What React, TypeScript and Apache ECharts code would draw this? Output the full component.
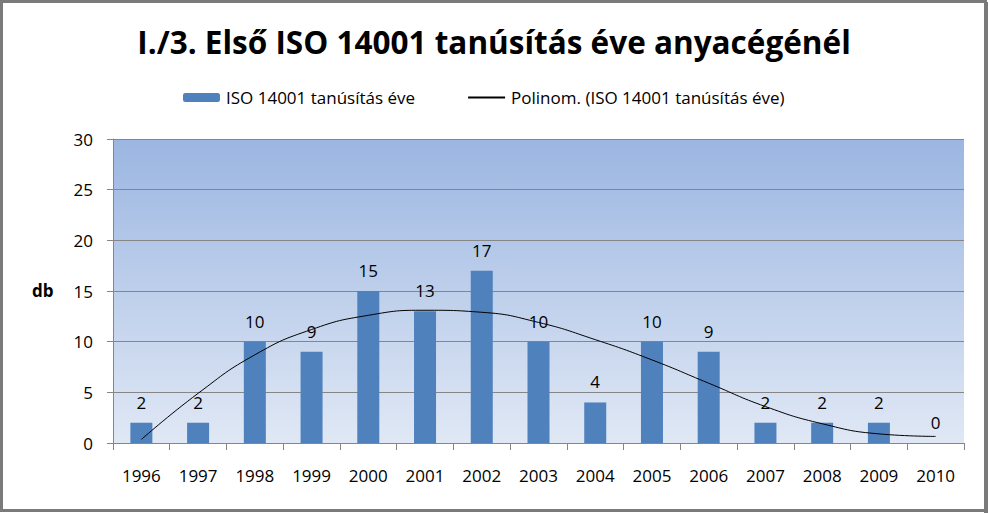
import React, { useEffect, useRef } from "react";
import * as echarts from "echarts";

const titleText = "I./3. Első ISO 14001 tanúsítás éve anyacégénél";
const barName = "ISO 14001 tanúsítás éve";
const lineName = "Polinom. (ISO 14001 tanúsítás éve)";
const yAxisName = "db";

const categories = ["1996", "1997", "1998", "1999", "2000", "2001", "2002", "2003", "2004", "2005", "2006", "2007", "2008", "2009", "2010"];
const counts = [2, 2, 10, 9, 15, 13, 17, 10, 4, 10, 9, 2, 2, 2, 0];
// trendline values
const trendValues = [0.35, 4.9, 8.7, 11.2, 12.6, 13.1, 12.9, 11.9, 10.2, 8.2, 5.9, 3.6, 1.9, 0.9, 0.65];
const yMin = 0;
const yMax = 30;
const yStep = 5;

const FONT = "'Open Sans', 'Noto Sans', sans-serif";

export default function App() {
  const ref = useRef<HTMLDivElement>(null);
  useEffect(() => {
    if (!ref.current) return;
    const chart = echarts.init(ref.current, undefined, { renderer: "svg" });
    chart.setOption({
      animation: false,
      backgroundColor: "#ffffff",
      title: {
        text: titleText,
        left: "center",
        top: 20,
        textStyle: { fontFamily: FONT, fontWeight: "bold", fontSize: 31.5, color: "#000" },
      },
      legend: {
        top: 89,
        left: 183,
        padding: 0,
        itemWidth: 37,
        itemHeight: 9,
        itemGap: 52,
        textStyle: { fontFamily: FONT, fontSize: 17, color: "#000", padding: [0, 0, 0, 1] },
        data: [{ name: barName }, { name: lineName, itemStyle: { opacity: 0 } }],
      },
      graphic: [
        {
          type: "rect",
          shape: { x: 1.5, y: 1.5, width: 984, height: 509 },
          style: { fill: "none", stroke: "#7a7a7a", lineWidth: 3 },
          silent: true,
        },
        {
          type: "rect",
          shape: { x: 984, y: 2, width: 4, height: 511 },
          style: { fill: "#7a7a7a" },
          silent: true,
        },
        {
          type: "text",
          left: 32,
          top: 282,
          style: { text: yAxisName, fontFamily: FONT, fontWeight: "bold", fontSize: 17, fill: "#000" },
        },
      ],
      grid: {
        left: 113,
        right: 24,
        top: 139,
        bottom: 70,
        show: true,
        borderWidth: 0,
        backgroundColor: new echarts.graphic.LinearGradient(0, 0, 0, 1, [
          { offset: 0, color: "#9bb6e1" },
          { offset: 1, color: "#e0e8f5" },
        ]),
      },
      xAxis: {
        type: "category",
        data: categories,
        boundaryGap: true,
        axisLine: { show: true, lineStyle: { color: "#868686", width: 1 } },
        axisTick: { show: true, length: 7, lineStyle: { color: "#868686" } },
        axisLabel: { fontFamily: FONT, fontSize: 17, color: "#000", margin: 24 },
      },
      yAxis: {
        type: "value",
        min: yMin,
        max: yMax,
        interval: yStep,
        axisLine: { show: true, lineStyle: { color: "#868686", width: 1 } },
        axisTick: { show: true, length: 6, lineStyle: { color: "#868686" } },
        axisLabel: { fontFamily: FONT, fontSize: 17, color: "#000", margin: 20 },
        splitLine: { show: true, lineStyle: { color: "#868686", width: 1 } },
      },
      series: [
        {
          name: barName,
          type: "bar",
          data: counts,
          barWidth: 22,
          itemStyle: { color: "#4f81bd" },
          label: { show: true, position: "top", distance: 12, fontFamily: FONT, fontSize: 17, color: "#000" },
        },
        {
          name: lineName,
          type: "line",
          data: trendValues,
          smooth: true,
          symbol: "none",
          lineStyle: { color: "#000", width: 1 },
          itemStyle: { color: "#000" },
          z: 5,
        },
      ],
    });
    return () => chart.dispose();
  }, []);
  return <div ref={ref} style={{ position: "fixed", left: 0, top: 0, width: 988, height: 513 }} />;
}
